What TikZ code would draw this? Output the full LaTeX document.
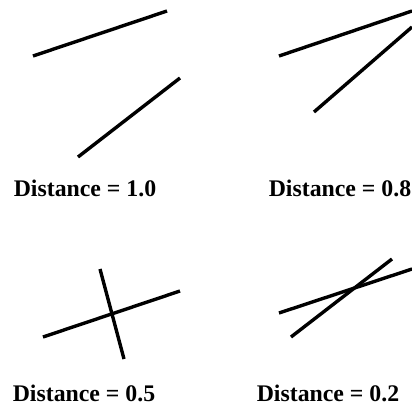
\documentclass[tikz,border=0pt]{standalone}
\usepackage{fontspec}
\setmainfont{Liberation Serif}
\begin{document}
\begin{tikzpicture}[x=1pt,y=-1pt,
  seg/.style={line width=3.4pt},
  lbl/.style={font=\bfseries\fontsize{23.8}{25}\selectfont, inner sep=0pt, anchor=base}]
  \useasboundingbox (0,0) rectangle (412,408);
  % distance 1.0
  \coordinate (A1) at (33,56);
  \coordinate (B1) at (167,11);
  \coordinate (C1) at (78,157);
  \coordinate (D1) at (180,78);
  \draw[seg] (A1) -- (B1);
  \draw[seg] (C1) -- (D1);
  \node[lbl] (L1) at (85,196) {Distance = 1.0};
  % distance 0.8
  \coordinate (A2) at (279,56);
  \coordinate (B2) at (412,11);
  \coordinate (C2) at (314,112);
  \coordinate (D2) at (412,27);
  \draw[seg] (A2) -- (B2);
  \draw[seg] (C2) -- (D2);
  \node[lbl] (L2) at (340,196) {Distance = 0.8};
  % distance 0.5
  \coordinate (A3) at (43,337);
  \coordinate (B3) at (180,291);
  \coordinate (C3) at (100,269);
  \coordinate (D3) at (124,359);
  \draw[seg] (A3) -- (B3);
  \draw[seg] (C3) -- (D3);
  \node[lbl] (L3) at (84,401) {Distance = 0.5};
  % distance 0.2
  \coordinate (A4) at (279,313);
  \coordinate (B4) at (412,269);
  \coordinate (C4) at (291,337);
  \coordinate (D4) at (392,259);
  \draw[seg] (A4) -- (B4);
  \draw[seg] (C4) -- (D4);
  \node[lbl] (L4) at (328,401) {Distance = 0.2};
\end{tikzpicture}
\end{document}
